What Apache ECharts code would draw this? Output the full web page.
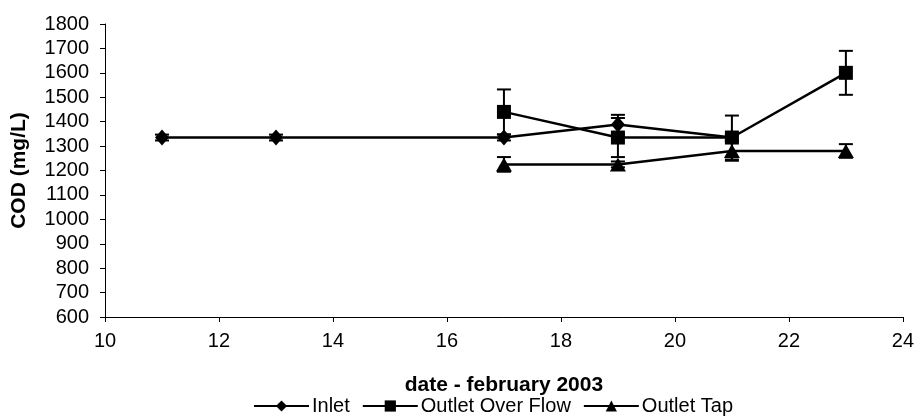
<!DOCTYPE html>
<html><head><meta charset="utf-8">
<script src="https://cdn.jsdelivr.net/npm/echarts@6/dist/echarts.min.js"></script>
<style>html,body{margin:0;padding:0;background:#fff}#c{width:917px;height:416px}</style>
</head><body><div id="c"></div>
<script>
// Data
const inletX = [11, 13, 17, 19, 21];
const inletY = [1335, 1335, 1335, 1388, 1335];
const inletErr = [12, 12, 12, 40, 12];

const overflowX = [17, 19, 21, 23];
const overflowY = [1440, 1335, 1335, 1600];
const overflowErr = [92, 80, 90, 90];

const tapX = [17, 19, 21, 23];
const tapY = [1225, 1225, 1280, 1280];
const tapErr = [30, 12, 40, 28];

const seriesNames = ['Inlet', 'Outlet Over Flow', 'Outlet Tap'];
const xTitle = 'date - february 2003';
const yTitle = 'COD (mg/L)';

const FONT = '"Liberation Sans", Arial, sans-serif';

function pairs(xs, ys) { return xs.map((x, i) => [x, ys[i]]); }
function errData(xs, ys, es) { return xs.map((x, i) => [x, ys[i] - es[i], ys[i] + es[i]]); }

function errorSeries(data) {
  return {
    type: 'custom',
    silent: true,
    z: 3,
    data: data,
    renderItem: function (params, api) {
      const lo = api.coord([api.value(0), api.value(1)]);
      const hi = api.coord([api.value(0), api.value(2)]);
      const hw = 7;
      const st = { stroke: '#000', lineWidth: 2 };
      return {
        type: 'group',
        children: [
          { type: 'line', shape: { x1: lo[0], y1: lo[1], x2: hi[0], y2: hi[1] }, style: st },
          { type: 'line', shape: { x1: lo[0] - hw, y1: lo[1], x2: lo[0] + hw, y2: lo[1] }, style: st },
          { type: 'line', shape: { x1: hi[0] - hw, y1: hi[1], x2: hi[0] + hw, y2: hi[1] }, style: st }
        ]
      };
    }
  };
}

function lineSeries(name, data, symbol, size) {
  return {
    name: name,
    type: 'line',
    data: data,
    symbol: symbol,
    symbolSize: size,
    z: 4,
    lineStyle: { color: '#000', width: 2.5 },
    itemStyle: { color: '#000', borderColor: '#000', borderWidth: 0 },
    emphasis: { disabled: true },
    animation: false
  };
}

const chart = echarts.init(document.getElementById('c'), null, { renderer: 'canvas' });
chart.setOption({
  animation: false,
  backgroundColor: '#fff',
  textStyle: { fontFamily: FONT, color: '#000' },
  grid: { left: 105, right: 11, top: 24, bottom: 99, containLabel: false },
  legend: {
    data: seriesNames,
    left: 253,
    top: 396,
    itemWidth: 55,
    itemHeight: 14,
    itemGap: 12,
    textStyle: { fontFamily: FONT, fontSize: 20, color: '#000', padding: [0, 0, 0, -2] },
    padding: 0
  },
  xAxis: {
    type: 'value',
    min: 10, max: 24, interval: 2,
    name: xTitle,
    nameLocation: 'middle',
    nameGap: 58,
    nameTextStyle: { fontFamily: FONT, fontSize: 21, fontWeight: 'bold', color: '#000' },
    axisLine: { lineStyle: { color: '#000', width: 1 } },
    axisTick: { show: true, length: 5, lineStyle: { color: '#000' } },
    axisLabel: { fontFamily: FONT, fontSize: 20, color: '#000', margin: 14 },
    splitLine: { show: false }
  },
  yAxis: {
    type: 'value',
    min: 600, max: 1800, interval: 100,
    name: yTitle,
    nameLocation: 'middle',
    nameGap: 75,
    nameRotate: 90,
    nameTextStyle: { fontFamily: FONT, fontSize: 21, fontWeight: 'bold', color: '#000' },
    axisLine: { show: true, lineStyle: { color: '#000', width: 1 } },
    axisTick: { show: true, length: 5, lineStyle: { color: '#000' } },
    axisLabel: { fontFamily: FONT, fontSize: 20, color: '#000', margin: 16, formatter: function (v) { return String(v); } },
    splitLine: { show: false }
  },
  series: [
    errorSeries(errData(inletX, inletY, inletErr)),
    errorSeries(errData(overflowX, overflowY, overflowErr)),
    errorSeries(errData(tapX, tapY, tapErr)),
    lineSeries(seriesNames[0], pairs(inletX, inletY), 'diamond', [14, 16]),
    lineSeries(seriesNames[1], pairs(overflowX, overflowY), 'rect', 14),
    lineSeries(seriesNames[2], pairs(tapX, tapY), 'triangle', [16, 14])
  ]
});
</script>
</body></html>
